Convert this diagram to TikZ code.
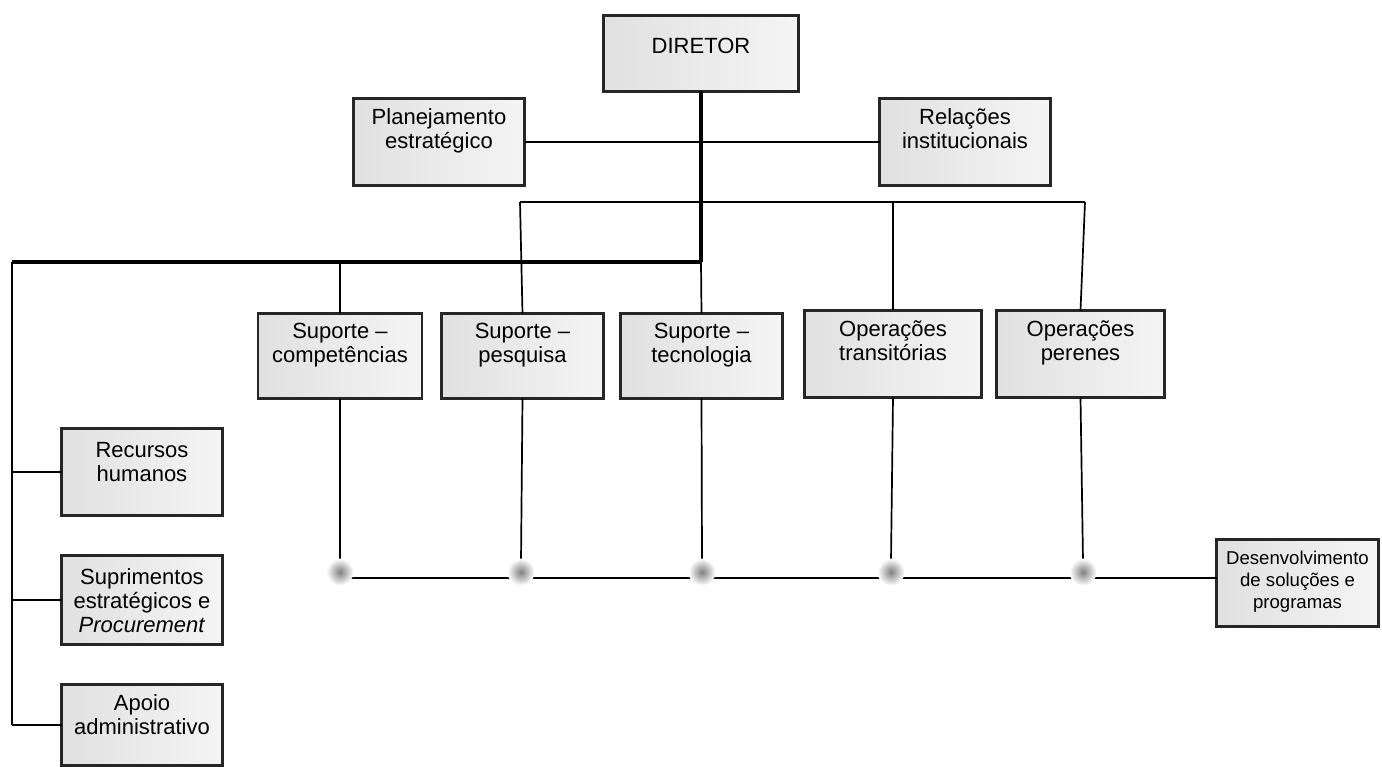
\documentclass[tikz,border=0pt]{standalone}
\usepackage{fontspec}
\setmainfont{Liberation Sans}
\usetikzlibrary{calc,shadows}

\tikzset{
  unit/.style={draw=black!85, line width=2.6pt, inner sep=0pt, outer sep=0pt,
    left color=black!12, middle color=white, right color=black!4,
    drop shadow={shadow xshift=1.4pt, shadow yshift=-1.4pt, fill=black!40, opacity=.4}},
  txt/.style={align=center, inner sep=0pt, font=\fontsize{22}{24}\selectfont},
  txtsmall/.style={align=center, inner sep=0pt, font=\fontsize{18.6}{22}\selectfont},
  thinl/.style={line width=1.7pt},
  medl/.style={line width=2.6pt},
  thickl/.style={line width=3.2pt},
  junction/.style={circle, minimum size=27pt, inner sep=0pt, draw=none,
    shading=radial, inner color=black!50, outer color=white},
}

\begin{document}
\begin{tikzpicture}[x=1pt, y=-1pt]
\useasboundingbox (0,0) rectangle (1382,767);

% top level
\node[unit, minimum width=195pt, minimum height=76pt] (dir) at (701,53.5) {};
\node[txt, anchor=north] (dir-t) at ([yshift=-22.7pt]dir.north) {DIRETOR};

% staff units beside the director
\node[unit, minimum width=171pt, minimum height=87pt] (plan) at (439,142) {};
\node[txt, anchor=north] (plan-t) at ([yshift=-9.7pt]plan.north) {Planejamento\\estratégico};
\node[unit, minimum width=171pt, minimum height=87pt] (rel) at (965,142) {};
\node[txt, anchor=north] (rel-t) at ([yshift=-9.7pt]rel.north) {Relações\\institucionais};

% second row
\node[unit, minimum width=164pt, minimum height=85pt] (comp) at (340,356) {};
\node[txt, anchor=north] (comp-t) at ([yshift=-9.7pt]comp.north) {Suporte –\\competências};
\node[unit, minimum width=162pt, minimum height=85pt] (pesq) at (522.5,356) {};
\node[txt, anchor=north] (pesq-t) at ([yshift=-9.7pt]pesq.north) {Suporte –\\pesquisa};
\node[unit, minimum width=162pt, minimum height=85pt] (tec) at (701.5,356) {};
\node[txt, anchor=north] (tec-t) at ([yshift=-9.7pt]tec.north) {Suporte –\\tecnologia};
\node[unit, minimum width=177pt, minimum height=87pt] (trans) at (893,354) {};
\node[txt, anchor=north] (trans-t) at ([yshift=-9.7pt]trans.north) {Operações\\transitórias};
\node[unit, minimum width=168pt, minimum height=87pt] (peren) at (1080.5,354) {};
\node[txt, anchor=north] (peren-t) at ([yshift=-9.7pt]peren.north) {Operações\\perenes};

% support units on the left
\node[unit, minimum width=161pt, minimum height=87pt] (rh) at (142,472) {};
\node[txt, anchor=north] (rh-t) at ([yshift=-13.7pt]rh.north) {Recursos\\humanos};
\node[unit, minimum width=161pt, minimum height=89pt] (sup) at (142,600) {};
\node[txt, anchor=north] (sup-t) at ([yshift=-12.7pt]sup.north) {Suprimentos\\estratégicos e\\\textit{Procurement}};
\node[unit, minimum width=161pt, minimum height=81pt] (apo) at (142,725) {};
\node[txt, anchor=north] (apo-t) at ([yshift=-9.7pt]apo.north) {Apoio\\administrativo};

% cross-cutting unit
\node[unit, minimum width=162pt, minimum height=87pt] (dev) at (1297.5,583) {};
\node[txtsmall, anchor=north] (dev-t) at ([yshift=-11.7pt]dev.north) {Desenvolvimento\\de soluções e\\programas};

% junction positions
\coordinate (j1) at (340,572);
\coordinate (j2) at (521,572);
\coordinate (j3) at (702,572);
\coordinate (j4) at (891,572);
\coordinate (j5) at (1083,572);

% branching coordinates
\coordinate (b1) at (701,202);
\coordinate (bL) at (520,202);
\coordinate (bR) at (1085,202);
\coordinate (c1) at (701,262);
\coordinate (cL) at (12,262);
\coordinate (cB) at (12,725);

% director trunk and staff line
\draw[thinl] (plan.east) -- (rel.west);
\draw[thickl] (dir.south) -- (c1);
\draw[thickl] (c1) -- (cL);
\draw[medl] (cL) -- (cB);
\draw[thinl] (c1) -- (tec.north);

% upper branch
\draw[thinl] (bL) -- (b1);
\draw[medl] (b1) -- (bR);
\draw[thinl] (bL) -- (pesq.north);
\draw[thinl] (trans.north |- b1) -- (trans.north);
\draw[thinl] (bR) -- (peren.north);
\draw[thinl] (comp.north |- c1) -- (comp.north);

% left stubs
\draw[thinl] (rh.west -| cL) -- (rh.west);
\draw[thinl] (sup.west -| cL) -- (sup.west);
\draw[thinl] (apo.west -| cL) -- (apo.west);

% drops to the junctions
\draw[thinl] (comp.south) -- ($(j1)+(0,-11)$);
\draw[thinl] (pesq.south) -- ($(j2)+(0,-11)$);
\draw[thinl] (tec.south) -- ($(j3)+(0,-11)$);
\draw[thinl] (trans.south) -- ($(j4)+(0,-11)$);
\draw[thinl] (peren.south) -- ($(j5)+(0,-11)$);

% bottom line joining the junctions to the cross-cutting unit
\draw[thinl] ($(j1)+(10,6)$) -- ($(j2)+(-9,6)$);
\draw[medl] ($(j2)+(12,6)$) -- ($(j3)+(-9,6)$);
\draw[medl] ($(j3)+(10,6)$) -- ($(j4)+(-9,6)$);
\draw[medl] ($(j4)+(10,6)$) -- ($(j5)+(-9,6)$);
\coordinate (e5) at ($(j5)+(10,6)$);
\draw[medl] (e5) -- (e5 -| dev.west);

% soft junction dots, on top of the line ends
\node[junction] (d1) at (j1) {};
\node[junction] (d2) at (j2) {};
\node[junction] (d3) at (j3) {};
\node[junction] (d4) at (j4) {};
\node[junction] (d5) at (j5) {};
\end{tikzpicture}
\end{document}
